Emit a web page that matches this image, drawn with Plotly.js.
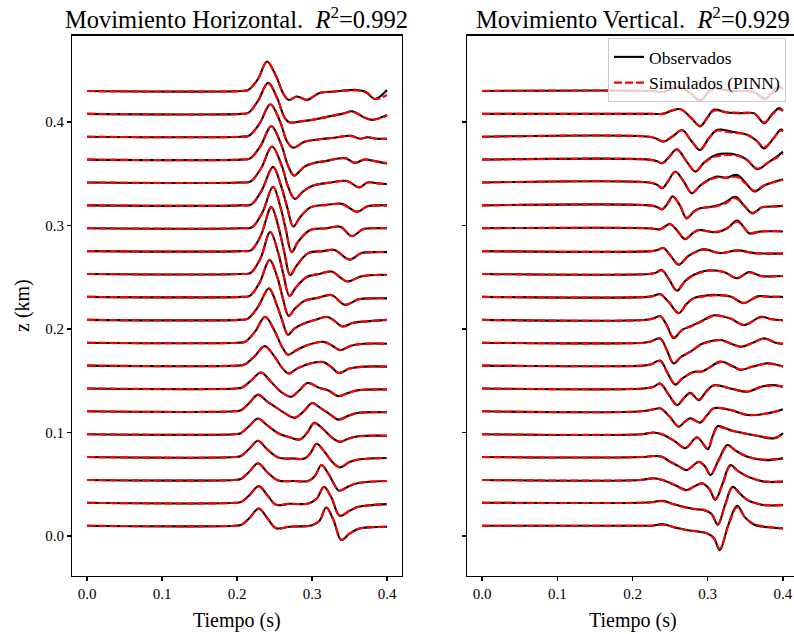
<!DOCTYPE html>
<html>
<head>
<meta charset="utf-8">
<script src="https://cdn.plot.ly/plotly-3.0.1.min.js"></script>
<style>
  html, body { margin: 0; padding: 0; overflow: hidden; background: #fff; }
  #chart { width: 810px; height: 634px; }
</style>
</head>
<body>
<div id="chart"></div>
<script>
// Receiver depths (km), one trace per depth; index 0 is drawn at the bottom
const depths = [0.0100, 0.0321, 0.0542, 0.0763, 0.0984, 0.1205, 0.1426, 0.1647, 0.1868, 0.2089,
                0.2311, 0.2532, 0.2753, 0.2974, 0.3195, 0.3416, 0.3637, 0.3858, 0.4079, 0.4300];

// Trace amplitude gain: km of vertical offset per amplitude unit
const gain = 0.000966;

// ---- Horizontal motion: sample times (s), observed and PINN-simulated amplitudes ----
const horTimes = [
  [0,0.197,0.206,0.217,0.229,0.241,0.252,0.27,0.3,0.31,0.319,0.329,0.339,0.35,0.362,0.38,0.4],
  [0,0.197,0.206,0.217,0.229,0.241,0.252,0.27,0.295,0.306,0.316,0.326,0.337,0.35,0.362,0.4],
  [0,0.196,0.205,0.216,0.228,0.24,0.255,0.275,0.295,0.304,0.3126,0.322,0.33,0.336,0.35,0.362,0.4],
  [0,0.196,0.205,0.216,0.228,0.24,0.255,0.275,0.29,0.298,0.306,0.316,0.326,0.337,0.35,0.362,0.4],
  [0,0.196,0.205,0.216,0.228,0.24,0.255,0.27,0.284,0.294,0.303,0.315,0.326,0.337,0.35,0.362,0.4],
  [0,0.196,0.205,0.216,0.228,0.24,0.25,0.262,0.277,0.289,0.3,0.312,0.324,0.335,0.35,0.362,0.4],
  [0,0.198,0.207,0.219,0.232,0.245,0.258,0.272,0.283,0.294,0.31,0.322,0.335,0.35,0.362,0.4],
  [0,0.2,0.21,0.223,0.237,0.25,0.26,0.269,0.28,0.3,0.315,0.325,0.336,0.35,0.37,0.4],
  [0,0.2,0.211,0.224,0.2375,0.25,0.26,0.268,0.278,0.29,0.305,0.316,0.327,0.338,0.352,0.37,0.4],
  [0,0.202,0.214,0.228,0.2426,0.253,0.26,0.268,0.276,0.29,0.305,0.32,0.33,0.34,0.355,0.373,0.4],
  [0,0.205,0.217,0.23,0.2435,0.254,0.261,0.269,0.277,0.29,0.308,0.326,0.344,0.362,0.385,0.4],
  [0,0.205,0.218,0.231,0.2444,0.255,0.262,0.27,0.278,0.293,0.31,0.326,0.347,0.365,0.385,0.4],
  [0,0.205,0.219,0.232,0.2457,0.256,0.263,0.271,0.279,0.295,0.315,0.33,0.35,0.366,0.385,0.4],
  [0,0.205,0.22,0.234,0.248,0.258,0.265,0.273,0.281,0.297,0.32,0.338,0.353,0.368,0.385,0.4],
  [0,0.205,0.219,0.233,0.248,0.259,0.267,0.275,0.284,0.298,0.32,0.34,0.36,0.374,0.39,0.4],
  [0,0.205,0.218,0.232,0.2466,0.26,0.268,0.277,0.288,0.3,0.325,0.347,0.363,0.374,0.39,0.4],
  [0,0.205,0.217,0.231,0.2457,0.259,0.268,0.276,0.29,0.305,0.318,0.344,0.357,0.37,0.384,0.4],
  [0,0.205,0.216,0.23,0.2445,0.257,0.267,0.275,0.29,0.31,0.33,0.352,0.364,0.374,0.386,0.4],
  [0,0.205,0.215,0.228,0.2415,0.254,0.263,0.27,0.285,0.3,0.32,0.34,0.354,0.368,0.38,0.4],
  [0,0.205,0.215,0.228,0.24,0.252,0.262,0.269,0.28,0.293,0.31,0.33,0.36,0.372,0.384,0.4]
];
const horObserved = [
  [0,0,1,8,17.3,7,-2.5,-1,0.5,5,18.3,5,-14.3,-8,-3,-1.5,-1],
  [0,0,1,8,16.7,7,-2,-1,-0.7,4,16,5,-13,-8,-4,-1.3],
  [0,0,1,8,16.7,8,-0.5,-1,-1,4,15,6,-5,-10.7,-6,-3,-1],
  [0,0,1,8,16.3,8,-0.5,-1.5,-1.5,4,13.3,6,-4,-10.3,-5,-2.5,-1],
  [0,0,1,8,15.7,9,1,-3,-5.3,2,11.3,5,-3,-7.7,-4,-2,-1.5],
  [0,0,1,8,16.7,10,5,-1,-6.5,0,8.3,3,-3,-8.3,-4,-1.5,-1],
  [0,0,1,8,16,7,-3,-8.3,-2,5.5,0.5,-2,-7.7,-4,-1.7,-1],
  [0,0,1,9,19.5,9,-2,-8,-3,2.5,3.5,-1,-7.5,-3,-1,-1],
  [0,0,1,11,26,12,-4,-12,-8,-3.5,0,0.8,-3,-7.5,-3,-1,-1],
  [0,0,1,13,31.5,15,0,-15,-9,-3.5,0,3,-1,-6.7,-3,-1.5,0],
  [0,0,1,14,37,19,-1,-19,-12,-4,-1,1.8,-8,-2.5,-1.5,-1.5],
  [0,0,1,15,42,21,-1,-22,-14,-3,0,2.4,-7.5,-2.5,-1,-1],
  [0,0,1,16,44,22,-1,-24,-15,-2,0,1.2,-8.5,-2,-1,-1],
  [0,0,1,16,41.5,21,-1,-24,-14,-2,0,1.5,-8,-1,0,0],
  [0,0,1,15,38.5,19,-2,-21,-12,-2,0.5,1.5,-6.5,-1,0,0],
  [0,0,1,14,36,16,-4,-16.5,-9,-3.5,0,1.5,-5,0,-1,-1.5],
  [0,0,1,13,33.5,15,-6,-16,-7,-3,-1.5,1.5,-3.3,0,-1.5,-4],
  [0,0,1,13,32.5,16,-5,-11,-5,-2.5,-1,1,-2,-0.5,-2,-2],
  [0,0,1,13,31,15,-3,-8.5,-7.5,-6,-3,0,2.5,-3,-6,-1],
  [0,0,1,12,29.5,15,-3,-9,-5.5,-9,-2,-0.5,1,-1,-8,1]
];
const horSimulated = [
  [0,0,1,8,17,7,-2.5,-1,0.5,5,18,5,-14,-8,-3,-1.5,-1],
  [0,0,1,8,16.5,7,-2,-1,-0.7,4,15.8,5,-12.8,-8,-4,-1.3],
  [0,0,1,8,16.5,8,-0.5,-1,-1,4,14.8,6,-5,-10.5,-6,-3,-1],
  [0,0,1,8,16.2,8,-0.5,-1.5,-1.5,4,13,6,-4,-10,-5,-2.5,-1],
  [0,0,1,8,15.5,9,1,-3,-5,2,11,5,-3,-7.5,-4,-2,-1.5],
  [0,0,1,8,16.5,10,5,-1,-6.3,0,8,3,-3,-8,-4,-1.5,-1],
  [0,0,1,8,16,7,-3,-8,-2,5.3,0.5,-2,-7.5,-4,-1.7,-1],
  [0,0,1,9,19.3,9,-2,-8,-3,2.5,3.3,-1,-7.3,-3,-1,-1],
  [0,0,1,11,25.8,12,-4,-12,-8,-3.5,0,0.8,-3,-7.3,-3,-1,-1],
  [0,0,1,13,31.3,15,0,-15,-9,-3.5,0,2.8,-1,-6.5,-3,-1.5,0],
  [0,0,1,14,36.8,19,-1,-19,-12,-4,-1,1.6,-7.8,-2.5,-1.5,-1.5],
  [0,0,1,15,41.8,21,-1,-22,-14,-3,0,2.2,-7.3,-2.5,-1,-1],
  [0,0,1,16,43.8,22,-1,-24,-15,-2,0,1.2,-8.3,-2,-1,-1],
  [0,0,1,16,41.3,21,-1,-24,-14,-2,0,1.5,-7.8,-1,0,0],
  [0,0,1,15,38.3,19,-2,-21,-12,-2,0.5,1.3,-6.3,-1,0,-0.5],
  [0,0,1,14,35.8,16,-4,-16.3,-9,-3.5,0,1.3,-4.8,0,-1,-1.5],
  [0,0,1,13,33.3,15,-6,-15.8,-7,-3,-1.5,1.3,-3,0,-1.5,-3.5],
  [0,0,1,13,32.3,16,-5,-11,-5,-2.5,-1,0.8,-2,-0.5,-2,-2],
  [0,0,1,13,30.8,15,-3,-8.5,-7.5,-6,-3,0,2,-3,-6,-2],
  [0,0,1,12,29.3,15,-3,-9,-5.5,-8.5,-2,-0.5,0.5,-1.5,-8,-4]
];

// ---- Vertical motion: sample times (s), observed and PINN-simulated amplitudes ----
const verTimes = [
  [0,0.21,0.225,0.241,0.255,0.272,0.289,0.299,0.308,0.316,0.327,0.339,0.35,0.362,0.38,0.4],
  [0,0.21,0.225,0.24,0.255,0.272,0.285,0.295,0.305,0.3135,0.323,0.333,0.343,0.353,0.375,0.4],
  [0,0.21,0.228,0.24,0.256,0.272,0.283,0.2926,0.302,0.31,0.32,0.33,0.34,0.353,0.375,0.4],
  [0,0.212,0.228,0.24,0.25,0.261,0.272,0.2881,0.296,0.3037,0.315,0.326,0.338,0.353,0.375,0.4],
  [0,0.212,0.228,0.2413,0.256,0.2702,0.2859,0.3,0.306,0.313,0.322,0.33,0.362,0.389,0.4],
  [0,0.212,0.228,0.2368,0.249,0.2613,0.27,0.277,0.29,0.299,0.308,0.33,0.353,0.38,0.4],
  [0,0.215,0.228,0.2368,0.248,0.259,0.269,0.277,0.288,0.298,0.308,0.33,0.353,0.371,0.388,0.4],
  [0,0.215,0.224,0.2368,0.247,0.2568,0.266,0.276,0.284,0.292,0.3,0.317,0.334,0.344,0.36,0.38,0.4],
  [0,0.215,0.2234,0.2368,0.246,0.2546,0.265,0.277,0.29,0.3,0.317,0.344,0.36,0.375,0.39,0.4],
  [0,0.218,0.228,0.237,0.246,0.2546,0.266,0.277,0.295,0.308,0.33,0.348,0.371,0.385,0.4],
  [0,0.22,0.228,0.237,0.249,0.2613,0.272,0.2813,0.295,0.308,0.33,0.348,0.366,0.385,0.4],
  [0,0.222,0.23,0.239,0.249,0.259,0.27,0.281,0.299,0.3215,0.339,0.355,0.371,0.4],
  [0,0.225,0.233,0.241,0.251,0.2613,0.274,0.286,0.295,0.317,0.339,0.362,0.38,0.4],
  [0,0.222,0.237,0.25,0.26,0.27,0.28,0.288,0.3,0.312,0.326,0.339,0.347,0.355,0.371,0.4],
  [0,0.222,0.232,0.2395,0.246,0.2535,0.263,0.272,0.282,0.29,0.308,0.322,0.337,0.348,0.3595,0.372,0.39,0.4],
  [0,0.222,0.232,0.2395,0.247,0.257,0.268,0.279,0.29,0.302,0.312,0.325,0.339,0.35,0.362,0.375,0.39,0.4],
  [0,0.222,0.232,0.2395,0.248,0.259,0.272,0.2836,0.295,0.306,0.317,0.339,0.352,0.366,0.38,0.392,0.4],
  [0,0.222,0.232,0.241,0.253,0.266,0.278,0.29,0.301,0.312,0.32,0.333,0.353,0.365,0.375,0.387,0.397,0.4],
  [0,0.225,0.24,0.252,0.264,0.278,0.29,0.3,0.308,0.326,0.345,0.362,0.375,0.386,0.395,0.4],
  [0,0.225,0.24,0.262,0.278,0.29,0.302,0.31,0.33,0.35,0.362,0.376,0.39,0.397,0.4]
];
const verObserved = [
  [0,0,0,1.5,-1.5,-4.3,-6,-7.7,-12,-24.5,0,20,8,1,-1.5,-2.7],
  [0,0,0.5,2,-1.5,-4.7,-6.5,-7.3,-11,-22,-2,16,9,2.7,-2.3,-2.3],
  [0,0,1.7,0,-5,-10,-6,-3.3,-9,-20,-3,15,9,3.3,-1.7,-1.7],
  [0,0,1,0,-4.7,-9,-13,-4.7,-9,-18,-2,12,6,0.3,-3,-1.3],
  [0,0,1.7,-0.7,-7,-14,-3,-15,-3,8,6.5,4,-1,-4,1],
  [0,0,2,3,-5,-15.3,-10,-7,-11.3,-4,3,1.3,-3.7,-2,2],
  [0,0,1.7,5,-6,-16.7,-9,-4.3,-11.7,-3,3.3,0,-3.3,1.7,3.3,1.7],
  [0,0,1,5,-8,-19,-13,-8,-6,-6,-3,4,-1,-4.3,-1,2.3,-1],
  [0,0,1,4.3,-8,-20.7,-14,-9,-2,1,2.7,-4,0,4.3,0,-1.3],
  [0,0,1.5,3.7,-6,-18.3,-10,-6.5,0,4.5,1.3,-5.3,3,0.5,-0.3],
  [0,0,1,2.7,-6,-16.3,-7,-1.3,1,2,0.3,-6.3,0.5,0,0],
  [0,0,1,4,-6,-16.7,-7,-1,3.5,2,-4.3,2,-2,-2],
  [0,0,1,3,-5,-13.7,-5,0,2,-2,0.7,-2,-2.5,-2.5],
  [0,0,-1,4.3,-3,-11,-5,-1.7,-3,-4,0,7.7,2,-5,-3.3,-3.3],
  [0,0,-1.5,-4,1,9,0,-13,-6,-3,-1,2.5,8.5,0,-8,-2,-1,-0.5],
  [0,0,-2,-5.7,1,11,1,-10.7,-3,3,6,5,7.5,0,-9,-3,1,3.3],
  [0,0,-1.5,-3.7,2,10.3,-2,-12,-3,3,5.7,4.7,0,-9.7,-3,3,8],
  [0,0,-2,-5,0,6.7,-4,-13.3,-2,6.7,7,5,1.7,-4,-11.7,-2,7.3,6],
  [0,0,0,3,4.7,-4,-12.5,-3,4,1.3,0.7,0.5,-9.3,0,5.7,3],
  [0,0,-1,4,-3,-10,0,3,0,0,-1,-8,2,4,2]
];
const verSimulated = [
  [0,0,0,1,-1.5,-4.5,-6,-7.5,-12.5,-23,-1,18.5,8,1.5,-1,-2.5],
  [0,0,0.5,1.5,-1.5,-5,-6.5,-7,-11.5,-21,-3,15,9,3,-2,-2],
  [0,0,1.5,0,-5,-10.5,-6,-3.5,-8.5,-19,-4,14,9,3.5,-1.5,-1.5],
  [0,0,1,0,-4.5,-9,-12.5,-5,-9,-17,-3,11,6,0.5,-2.5,-1],
  [0,0,1.5,-0.5,-7,-13.5,-3.5,-14,-4,7,6,4,-1,-3.5,0.5],
  [0,0,2,3,-5,-15,-10,-7.5,-11,-4,3,1.5,-3.5,-2,1.5],
  [0,0,1.5,4.5,-6,-16,-9,-5,-11,-3.5,3,0,-3,1.5,3,1.5],
  [0,0,1,4.5,-8,-18.5,-13,-8.5,-6.5,-6,-3,3.5,-1,-4,-1,2,-1],
  [0,0,1,4,-8,-20,-14,-9,-2.5,0.5,2.5,-4,0,4,0.5,-1],
  [0,0,1.5,3.5,-6,-17.5,-10,-7,-0.5,4,1.5,-5,2.5,0.5,-0.5],
  [0,0,1,2.5,-6,-16,-7,-1.5,0.5,1.5,0.5,-6,0,0,0],
  [0,0,1,3.5,-6,-16.3,-7,-1.5,3,2,-4,1.5,-2,-2],
  [0,0,1,3,-5,-13.3,-5,-0.5,1.5,-2,0.5,-2,-2.5,-2.5],
  [0,0,-1,4,-3,-10.5,-5,-2,-3,-3.5,0,6.5,2,-4.5,-3,-3],
  [0,0,-1.5,-3.8,1,8.5,0,-12.5,-6,-3,-1.5,1.5,7,0,-7.5,-2,-1,-0.5],
  [0,0,-2,-5.5,1,10.5,1,-10.5,-3,2.5,5,4.5,5.5,-1,-8.3,-3,0.8,2.8],
  [0,0,-1.5,-3.5,2,10,-2,-11.5,-3.5,2,4,4,-0.5,-9,-3,2,6],
  [0,0,-2,-4.5,0.5,6.5,-4,-12.5,-2,6,5.5,4,2,-4,-10.5,-2,6,5.5],
  [0,0,0,3.5,4.5,-4,-12,-3.5,3,1.5,1,0,-8.5,-0.5,4.5,3],
  [0,0,-1,3.5,-3,-9,-1,2,0,0,-1,-7,1,3,2]
];

const tickVals = [0, 0.1, 0.2, 0.3, 0.4];
const tickText = ['0.0', '0.1', '0.2', '0.3', '0.4'];
const panelTitles = ['Movimiento Horizontal.  <i>R</i><sup>2</sup>=0.992',
                     'Movimiento Vertical.  <i>R</i><sup>2</sup>=0.929'];
const seriesNames = ['Observados', 'Simulados (PINN)'];

const FONT = 'Liberation Serif, Times New Roman, serif';
const traces = [];

function addPanel(times, observed, simulated, xa, ya, withLegend) {
  for (let i = 0; i < depths.length; i++) {
    const z = depths[i];
    traces.push({
      x: times[i], y: observed[i].map(v => z + v * gain),
      xaxis: xa, yaxis: ya, type: 'scatter', mode: 'lines',
      line: { color: '#000000', width: 2.1, shape: 'spline', smoothing: 1 },
      name: seriesNames[0], legendgroup: 'obs',
      showlegend: withLegend && i === 0, hoverinfo: 'skip'
    });
    traces.push({
      x: times[i], y: simulated[i].map(v => z + v * gain),
      xaxis: xa, yaxis: ya, type: 'scatter', mode: 'lines',
      line: { color: '#ff0000', width: 2.1, dash: '8px,3px', shape: 'spline', smoothing: 1 },
      name: seriesNames[1], legendgroup: 'sim',
      showlegend: withLegend && i === 0, hoverinfo: 'skip'
    });
  }
}

addPanel(horTimes, horObserved, horSimulated, 'x', 'y', false);
addPanel(verTimes, verObserved, verSimulated, 'x2', 'y2', true);

const W = 810, H = 634;
const px = v => v / W, py = v => 1 - v / H;

const axisCommon = {
  showline: true, linecolor: '#000', linewidth: 1.1, mirror: true,
  ticks: 'outside', ticklen: 4, tickwidth: 1.1, tickcolor: '#000',
  showgrid: false, zeroline: false,
  tickfont: { family: FONT, size: 15, color: '#000' }
};

const layout = {
  width: W, height: H,
  margin: { l: 0, r: 0, t: 0, b: 0 },
  paper_bgcolor: '#fff', plot_bgcolor: '#fff',
  showlegend: true,
  xaxis: Object.assign({}, axisCommon, {
    domain: [px(72), px(402)], range: [-0.02, 0.42],
    tickvals: tickVals, ticktext: tickText, anchor: 'y'
  }),
  yaxis: Object.assign({}, axisCommon, {
    domain: [py(576), py(35.5)], range: [-0.0386, 0.4836],
    tickvals: tickVals, ticktext: tickText, anchor: 'x'
  }),
  xaxis2: Object.assign({}, axisCommon, {
    domain: [px(467), px(798)], range: [-0.02, 0.42],
    tickvals: tickVals, ticktext: tickText, anchor: 'y2'
  }),
  yaxis2: Object.assign({}, axisCommon, {
    domain: [py(576), py(35.5)], range: [-0.0386, 0.4836],
    tickvals: tickVals, showticklabels: false, anchor: 'x2', matches: 'y'
  }),
  legend: {
    x: px(786), y: py(38), xanchor: 'right', yanchor: 'top',
    bgcolor: 'rgba(255,255,255,0.8)', bordercolor: '#cccccc', borderwidth: 1,
    font: { family: FONT, size: 17.5, color: '#000' },
    tracegroupgap: 0, itemwidth: 30
  },
  annotations: [
    { text: panelTitles[0], xref: 'paper', yref: 'paper', x: px(237), y: py(18),
      xanchor: 'center', yanchor: 'middle', showarrow: false,
      font: { family: FONT, size: 24.5, color: '#000' } },
    { text: panelTitles[1], xref: 'paper', yref: 'paper', x: px(632.5), y: py(18),
      xanchor: 'center', yanchor: 'middle', showarrow: false,
      font: { family: FONT, size: 24.5, color: '#000' } },
    { text: 'Tiempo (s)', xref: 'paper', yref: 'paper', x: px(237), y: py(620),
      xanchor: 'center', yanchor: 'middle', showarrow: false,
      font: { family: FONT, size: 20, color: '#000' } },
    { text: 'Tiempo (s)', xref: 'paper', yref: 'paper', x: px(632.5), y: py(620),
      xanchor: 'center', yanchor: 'middle', showarrow: false,
      font: { family: FONT, size: 20, color: '#000' } },
    { text: 'z (km)', xref: 'paper', yref: 'paper', x: px(22), y: py(306),
      xanchor: 'center', yanchor: 'middle', showarrow: false, textangle: -90,
      font: { family: FONT, size: 20, color: '#000' } }
  ]
};

Plotly.newPlot('chart', traces, layout, { staticPlot: true, displayModeBar: false });
</script>
</body>
</html>
